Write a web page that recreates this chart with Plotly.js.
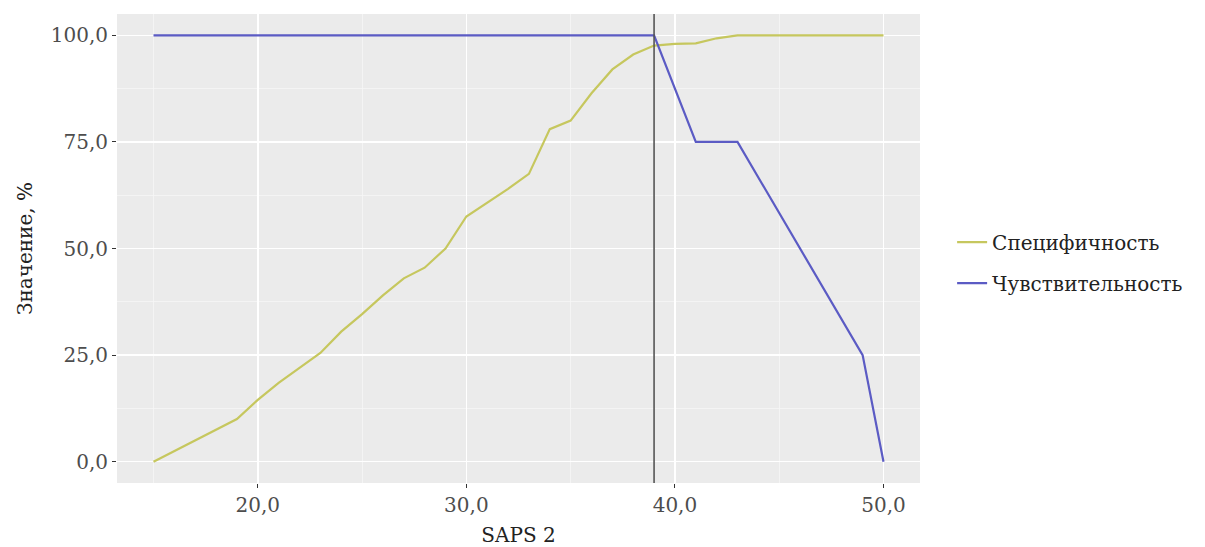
<!DOCTYPE html>
<html>
<head>
<meta charset="utf-8">
<script src="https://cdn.plot.ly/plotly-3.0.1.min.js"></script>
<style>html,body{margin:0;padding:0;background:#fff}#chart{width:1205px;height:547px}</style>
</head>
<body>
<div id="chart"></div>
<script>
// Specificity (Специфичность) by SAPS 2 threshold
const specX = [15,16,17,18,19,20,21,22,23,24,25,26,27,28,29,30,31,32,33,34,35,36,37,38,39,40,41,42,43,44,45,46,47,48,49,50];
const specY = [0,2.5,5,7.5,10,14.5,18.5,22,25.5,30.5,34.6,39,43,45.5,50,57.5,60.7,64,67.5,78,80,86.4,92,95.5,97.6,98,98.1,99.3,100,100,100,100,100,100,100,100];
// Sensitivity (Чувствительность)
const sensX = [15,39,41,43,49,50];
const sensY = [100,100,75,75,25,0];
const cutoff = 39;
const xTicks = [20,30,40,50];
const yTicks = [0,25,50,75,100];
const seriesNames = ['Специфичность','Чувствительность'];

const FONT = 'DejaVu Serif, Liberation Serif, serif';

const traces = [
  {x: specX, y: specY, type:'scatter', mode:'lines', name: seriesNames[0], legendgroup:'a',
   line:{color:'#c6c75e', width:2.2}},
  {x: sensX, y: sensY, type:'scatter', mode:'lines', name: seriesNames[1], legendgroup:'b',
   line:{color:'#5b5bc4', width:2.2}}
];

const layout = {
  width:1205, height:547,
  margin:{l:117, r:285, t:14, b:64},
  paper_bgcolor:'#ffffff', plot_bgcolor:'#ebebeb',
  separators:',.',
  font:{family:FONT, size:20, color:'#222'},
  showlegend:true,
  legend:{x:1.04, xanchor:'left', y:0.47, yanchor:'middle', traceorder:'grouped', tracegroupgap:12,
          font:{family:FONT, size:20, color:'#222'}, bgcolor:'rgba(0,0,0,0)'},
  xaxis:{range:[13.25,51.75], tickvals:xTicks, tickformat:'.1f', ticks:'outside', ticklen:4, tickcolor:'#333',
         tickfont:{family:FONT, size:20, color:'#4d4d4d'}, showgrid:true, gridcolor:'#ffffff', gridwidth:1.6,
         minor:{dtick:5, tick0:15, showgrid:true, gridcolor:'#f6f6f6', gridwidth:0.8, ticks:''},
         zeroline:false, showline:false,
         title:{text:'SAPS 2', font:{family:FONT, size:20, color:'#222'}, standoff:13}},
  yaxis:{range:[-5,105], tickvals:yTicks, tickformat:'.1f', ticks:'outside', ticklen:4, tickcolor:'#333',
         tickfont:{family:FONT, size:20, color:'#4d4d4d'}, showgrid:true, gridcolor:'#ffffff', gridwidth:1.6,
         minor:{dtick:12.5, tick0:12.5, showgrid:true, gridcolor:'#f6f6f6', gridwidth:0.8, ticks:''},
         zeroline:false, showline:false,
         title:{text:'Значение, %', font:{family:FONT, size:20, color:'#222'}, standoff:12}},
  shapes:[{type:'line', xref:'x', yref:'paper', x0:cutoff, x1:cutoff, y0:0, y1:1,
           line:{color:'#555555', width:1.6}, layer:'above'}]
};

Plotly.newPlot('chart', traces, layout, {displayModeBar:false, staticPlot:true});
</script>
</body>
</html>
